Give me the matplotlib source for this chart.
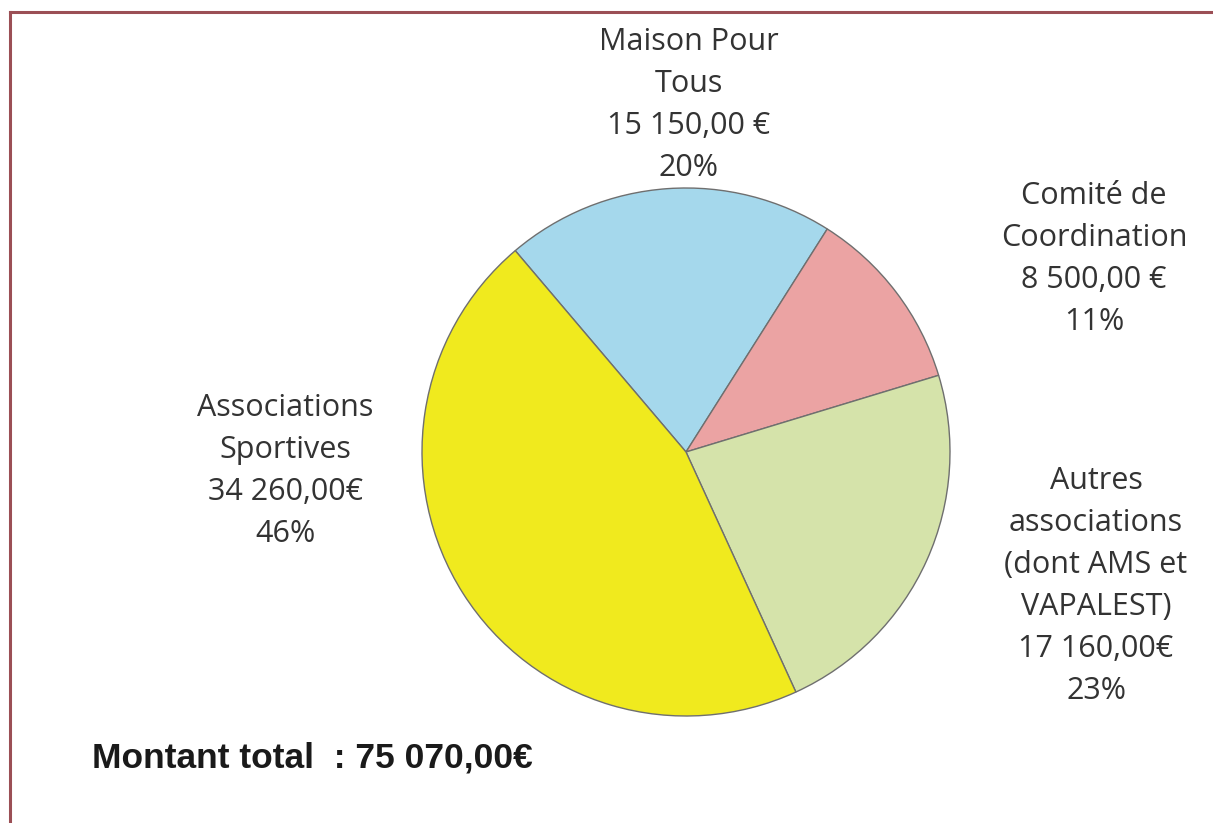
import matplotlib
matplotlib.use("Agg")
import matplotlib.pyplot as plt
from matplotlib.lines import Line2D

# Data
categories = ["Maison Pour\nTous", "Comité de\nCoordination",
              "Autres\nassociations\n(dont AMS et\nVAPALEST)", "Associations\nSportives"]
amounts = [15150.00, 8500.00, 17160.00, 34260.00]
amount_labels = ["15 150,00 €", "8 500,00 €", "17 160,00€", "34 260,00€"]
percent_labels = ["20%", "11%", "23%", "46%"]
colors = ["#A5D8EC", "#EBA3A3", "#D5E3AA", "#F0EA1E"]
total_label = "Montant total  : 75 070,00€"

W, H = 1213, 823
fig = plt.figure(figsize=(W / 100, H / 100), dpi=100)
ax = fig.add_axes([0, 0, 1, 1])

cx, cy, r = 686, H - 452, 264
ax.pie(amounts, colors=colors, startangle=130.3, counterclock=False,
       center=(cx, cy), radius=r, frame=True,
       wedgeprops=dict(edgecolor="#6f6f6f", linewidth=1.0))
ax.set_xlim(0, W)
ax.set_ylim(0, H)
ax.set_aspect("auto")
ax.axis("off")

# label positions (pixel, top-origin) for the first line centre
label_pos = [(689, 42), (1094, 196), (1096, 481), (285, 408)]
line_h = 42
font = dict(family="Open Sans", fontsize=22, color="#333333")
for cat, amt, pct, (x, y0) in zip(categories, amount_labels, percent_labels, label_pos):
    lines = cat.split("\n") + [amt, pct]
    for i, ln in enumerate(lines):
        ax.text(x, H - (y0 + i * line_h), ln, ha="center", va="center", **font)

ax.text(92, H - 758, total_label, ha="left", va="center",
        family="Liberation Sans", fontweight="bold", fontsize=25.5, color="#1a1a1a")

# frame lines (top and left)
fig.add_artist(Line2D([10 / W, 1], [1 - 12 / H, 1 - 12 / H], color="#9B4F55", lw=2.2,
                      transform=fig.transFigure))
fig.add_artist(Line2D([10 / W, 10 / W], [0, 1 - 12 / H], color="#9B4F55", lw=2.2,
                      transform=fig.transFigure))

fig.savefig("out.png", dpi=100, facecolor="white")
